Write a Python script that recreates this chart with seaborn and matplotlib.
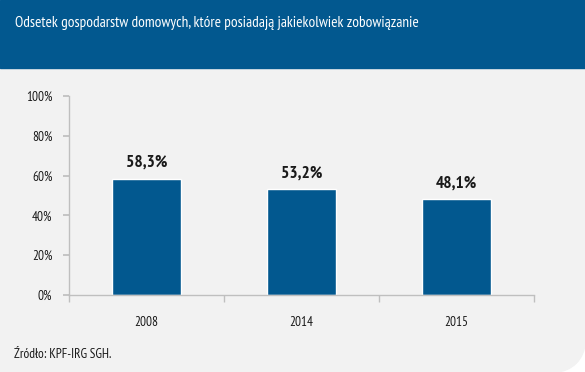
import matplotlib
matplotlib.use("Agg")
import matplotlib.pyplot as plt
import seaborn as sns
import pandas as pd
from matplotlib.patches import Rectangle, Ellipse
from matplotlib.ticker import FuncFormatter

years = ["2008", "2014", "2015"]
values = [58.3, 53.2, 48.1]
value_labels = ["58,3%", "53,2%", "48,1%"]
yticks = [0, 20, 40, 60, 80, 100]
title = "Odsetek gospodarstw domowych, które posiadają jakiekolwiek zobowiązanie"
source = "Źródło: KPF-IRG SGH."

sns.set_theme(style="white")
FONT = ["PT Sans Narrow", "DejaVu Sans"]
plt.rcParams["font.family"] = FONT

W, H = 585, 372
fig = plt.figure(figsize=(W / 100, H / 100), dpi=100, facecolor="white")

bg = "#F2F2F2"
blue = "#02588F"
r = 30
fig.patches.append(Rectangle((0, r / H), 1, 1 - r / H, transform=fig.transFigure, color=bg, zorder=-10))
fig.patches.append(Rectangle((0, 0), 1 - r / W, r / H + 0.001, transform=fig.transFigure, color=bg, zorder=-10))
fig.patches.append(Ellipse((1 - r / W, r / H), 2 * r / W, 2 * r / H, transform=fig.transFigure, color=bg, zorder=-10))
fig.patches.append(Rectangle((0, 1 - 68 / H), 1, 68 / H, transform=fig.transFigure, color=blue, zorder=-5))

fig.text(15 / W, 1 - 23 / H, title, color="white", fontsize=11, va="center", ha="left", family=FONT)
fig.text(14 / W, 1 - 355 / H, source, color="#1a1a1a", fontsize=9.5, va="center", ha="left", family=FONT)

ax = fig.add_axes([69 / W, 1 - 295 / H, (534 - 69) / W, (295 - 96) / H])
ax.set_facecolor(bg)
df = pd.DataFrame({"year": years, "value": values})
sns.barplot(data=df, x="year", y="value", color=blue, width=0.45, saturation=1, ax=ax)
ax.set_ylim(0, 100)
ax.set_xlim(-0.5, 2.5)
ax.set_yticks(yticks)
ax.yaxis.set_major_formatter(FuncFormatter(lambda v, p: f"{int(v)}%"))
ax.set_xlabel("")
ax.set_ylabel("")
for s in ["top", "right"]:
    ax.spines[s].set_visible(False)
for s in ["left", "bottom"]:
    ax.spines[s].set_color("#BFBFBF")
    ax.spines[s].set_linewidth(1.0)

ax.tick_params(axis="y", which="major", left=True, length=4, color="#BFBFBF", labelsize=9.5, labelcolor="#1a1a1a", pad=8)
ax.tick_params(axis="x", which="major", bottom=False, labelsize=9.5, labelcolor="#1a1a1a", pad=9)
ax.set_xticks([-0.5, 0.5, 1.5, 2.5], minor=True)
ax.tick_params(axis="x", which="minor", bottom=True, length=5, color="#BFBFBF", direction="out")

for i, (v, lab) in enumerate(zip(values, value_labels)):
    ax.text(i, v + 4, lab, ha="center", va="bottom", fontsize=12.5, fontweight="bold", color="#1a1a1a", family=FONT)

fig.savefig("out.png", dpi=100, facecolor="white")
